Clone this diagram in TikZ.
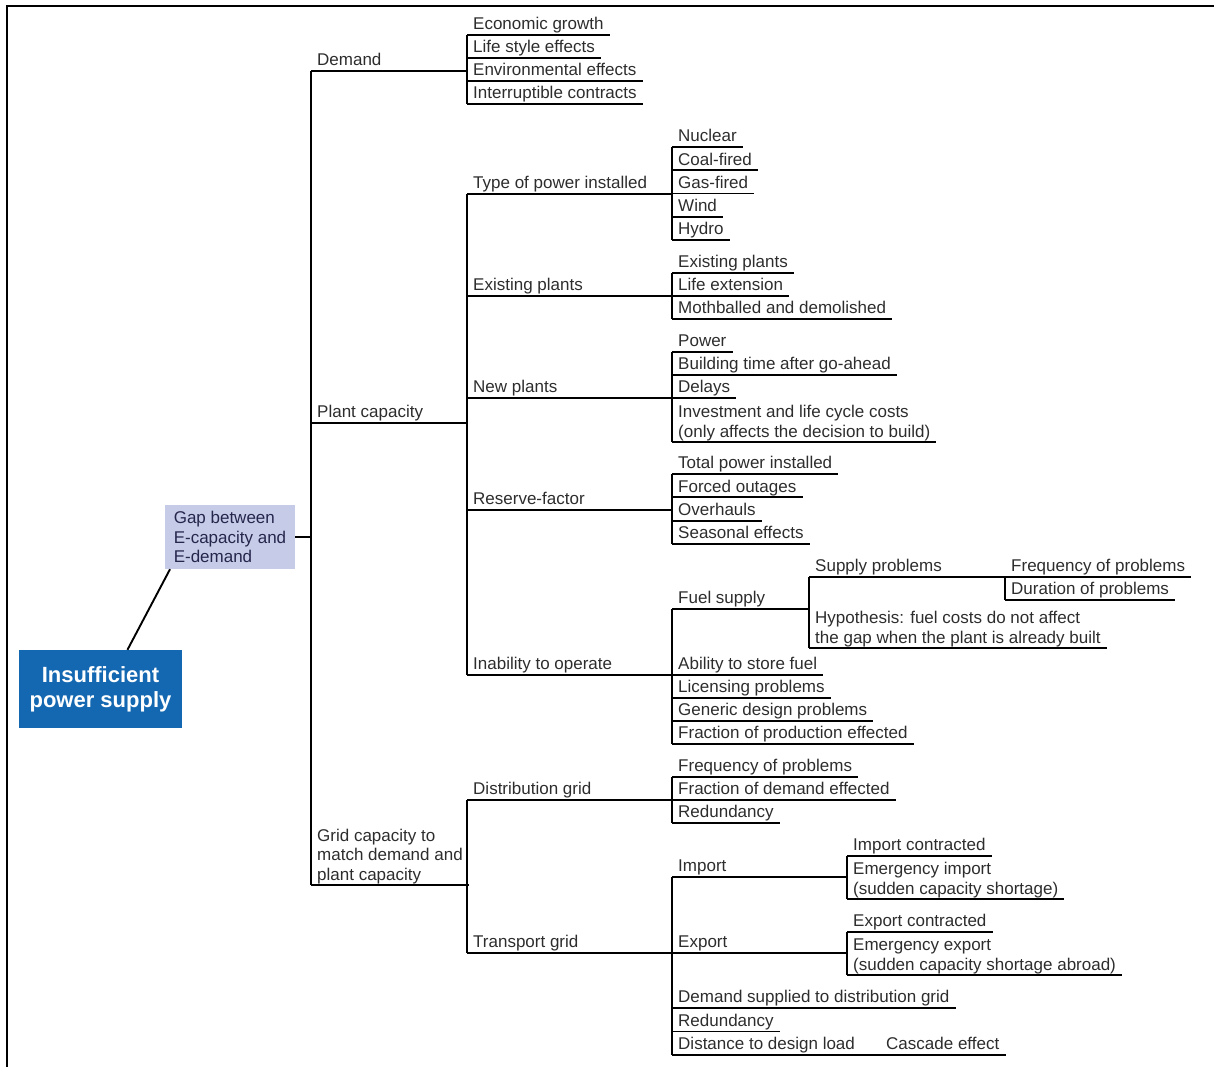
\documentclass[tikz,border=0pt]{standalone}
\usepackage{fontspec}
\setmainfont{Liberation Sans}
\usetikzlibrary{calc}

\definecolor{rootblue}{RGB}{20,104,178}
\definecolor{gaplilac}{RGB}{198,204,232}
\definecolor{inkgray}{RGB}{45,45,45}

\begin{document}
\begin{tikzpicture}[x=1pt,y=-1pt,
  tree/.style={line width=1.9pt},
  item/.style={anchor=south west, inner xsep=6pt, inner ysep=1pt,
     text height=12pt, text depth=4pt, text=inkgray,
     font=\fontsize{17}{19.5}\selectfont,
     append after command={(\tikzlastnode.south west) edge[tree] (\tikzlastnode.south east)}},
  multi/.style={item, align=left, text height={}, text depth={}}]

\useasboundingbox (0,0) rectangle (1214,1067);
\draw[line width=2.6pt] (7,1067) -- (7,6) -- (1214,6);

% root and gap
\node[fill=rootblue, text=white, font=\fontsize{22}{25}\selectfont\bfseries,
      minimum width=163pt, minimum height=78pt, inner sep=0pt, align=center]
      (root) at (100.5,689) {Insufficient\\power supply};
\node[fill=gaplilac, text=inkgray!85!blue, font=\fontsize{17}{19.5}\selectfont,
      minimum width=130pt, minimum height=64pt, inner sep=0pt, align=left]
      (gap) at (230,537) {Gap between\\E-capacity and\\E-demand};

\draw[tree] ($(root.north)!.33!(root.north east)$) -- ($(gap.south west)!.04!(gap.south east)$);

% first level
\node[item] (dem) at (311,71) {Demand};
\node[item] (plant) at (311,423) {Plant capacity};
\node[multi] (grid) at (311,885) {Grid capacity to\\match demand and\\plant capacity};

\draw[tree] (gap.east) -- (gap.east -| dem.south west);
\draw[tree] (dem.south west) -- (grid.south west);

% demand
\foreach \t [count=\i] in {Economic growth, Life style effects, Environmental effects, Interruptible contracts}
   \node[item] (dem\i) at (467, {35 + (\i-1)*23}) {\t};
\draw[tree] (dem.south west) -- (dem.south west -| dem1.south west);
\draw[tree] (dem1.south west) -- (dem4.south west);

% plant capacity
\node[item] (type) at (467,194) {Type of power installed};
\node[item] (ex) at (467,296) {Existing plants};
\node[item] (new) at (467,398) {New plants};
\node[item] (res) at (467,510) {Reserve-factor};
\node[item] (inab) at (467,675) {Inability to operate};
\draw[tree] (plant.south west) -- (plant.south west -| type.south west);
\draw[tree] (type.south west) -- (inab.south west);

\foreach \t [count=\i] in {Nuclear, Coal-fired, Gas-fired, Wind, Hydro}
   \node[item] (type\i) at (672, {147 + (\i-1)*23.25}) {\t};
\draw[tree] (type.south west) -- (type.south west -| type1.south west);
\draw[tree] (type1.south west) -- (type5.south west);

\foreach \t [count=\i] in {Existing plants, Life extension, Mothballed and demolished}
   \node[item] (ex\i) at (672, {273 + (\i-1)*23}) {\t};
\draw[tree] (ex.south west) -- (ex.south west -| ex1.south west);
\draw[tree] (ex1.south west) -- (ex3.south west);

\foreach \t [count=\i] in {Power, Building time after go-ahead, Delays}
   \node[item] (new\i) at (672, {352 + (\i-1)*23}) {\t};
\node[multi] (new4) at (672,442) {Investment and life cycle costs\\(only affects the decision to build)};
\draw[tree] (new.south west) -- (new.south west -| new1.south west);
\draw[tree] (new1.south west) -- (new4.south west);

\foreach \t [count=\i] in {Total power installed, Forced outages, Overhauls, Seasonal effects}
   \node[item] (res\i) at (672, {474 + (\i-1)*23.3}) {\t};
\draw[tree] (res.south west) -- (res.south west -| res1.south west);
\draw[tree] (res1.south west) -- (res4.south west);

\node[item] (fuel) at (672,609) {Fuel supply};
\foreach \t [count=\i] in {Ability to store fuel, Licensing problems, Generic design problems, Fraction of production effected}
   \node[item] (inab\i) at (672, {675 + (\i-1)*23}) {\t};
\draw[tree] (inab.south west) -- (inab.south west -| fuel.south west);
\draw[tree] (fuel.south west) -- (inab4.south west);

% fuel supply
\node[item] (sup) at (809,577) {Supply problems};
\node[multi] (hyp) at (809,648) {Hypothesis: fuel costs do not affect\\the gap when the plant is already built};
\draw[tree] (fuel.south west) -- (fuel.south west -| sup.south west);
\draw[tree] (sup.south west) -- (hyp.south west);

\node[item] (freq) at (1005,577) {Frequency of problems};
\node[item] (dur) at (1005,600) {Duration of problems};
\draw[tree] (sup.south west) -- (freq.south west);
\draw[tree] (freq.south west) -- (dur.south west);

% grid capacity
\node[item] (dist) at (467,800) {Distribution grid};
\node[item] (trans) at (467,953) {Transport grid};
\draw[tree] (grid.south west) -- (grid.south west -| dist.south west);
\draw[tree] (dist.south west) -- (trans.south west);

\foreach \t [count=\i] in {Frequency of problems, Fraction of demand effected, Redundancy}
   \node[item] (dist\i) at (672, {777 + (\i-1)*23}) {\t};
\draw[tree] (dist.south west) -- (dist.south west -| dist1.south west);
\draw[tree] (dist1.south west) -- (dist3.south west);

\node[item] (imp) at (672,877) {Import};
\node[item] (exp) at (672,953) {Export};
\foreach \t [count=\i] in {Demand supplied to distribution grid, Redundancy, Distance to design load}
   \node[item] (trans\i) at (672, {1008 + (\i-1)*23.5}) {\t};
\node[item] (casc) at (880,1055) {Cascade effect};
\draw[tree] (trans.south west) -- (trans.south west -| imp.south west);
\draw[tree] (imp.south west) -- (trans3.south west);
\draw[tree] (trans3.south west) -- (casc.south west);

\node[item] (impc) at (847,856) {Import contracted};
\node[multi] (impe) at (847,899) {Emergency import\\(sudden capacity shortage)};
\draw[tree] (imp.south west) -- (imp.south west -| impc.south west);
\draw[tree] (impc.south west) -- (impe.south west);

\node[item] (expc) at (847,932) {Export contracted};
\node[multi] (expe) at (847,975) {Emergency export\\(sudden capacity shortage abroad)};
\draw[tree] (exp.south west) -- (exp.south west -| expc.south west);
\draw[tree] (expc.south west) -- (expe.south west);

\end{tikzpicture}
\end{document}
